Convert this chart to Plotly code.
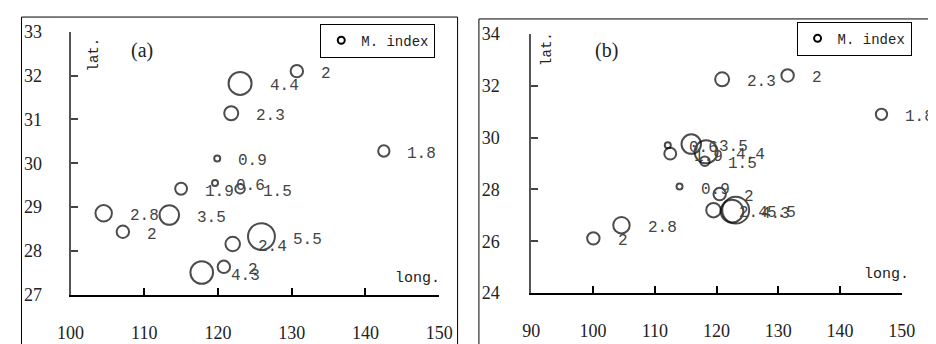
import math
import plotly.graph_objects as go

# ---- data ----
mindex = [4.4, 2.3, 0.9, 2, 1.8, 1.9, 0.6, 1.5, 2.8, 2, 3.5, 4.3, 2, 2.4, 5.5]

lon_a = [123.0, 121.8, 119.9, 130.7, 142.5, 115.0, 119.6, 123.0, 104.5, 107.1, 113.4, 117.8, 120.8, 122.0, 125.9]
lat_a = [31.82, 31.14, 30.11, 32.10, 30.28, 29.42, 29.55, 29.42, 28.86, 28.44, 28.82, 27.51, 27.64, 28.16, 28.33]

lon_b = [118.3, 120.9, 114.0, 131.5, 146.7, 112.5, 112.1, 118.1, 104.6, 100.05, 115.9, 122.5, 120.5, 119.5, 123.1]
lat_b = [29.45, 32.25, 28.11, 32.40, 30.90, 29.38, 29.71, 29.09, 26.62, 26.11, 29.75, 27.16, 27.82, 27.20, 27.20]

xticks_a = [100, 110, 120, 130, 140, 150]
yticks_a = [27, 28, 29, 30, 31, 32, 33]
xticks_b = [90, 100, 110, 120, 130, 140, 150]
yticks_b = [24, 26, 28, 30, 32, 34]

W, H = 936, 344
OFF = 8  # page body margin offset
SERIF = "Liberation Serif"
MONO = "Liberation Mono"

def outer_diam(v):
    return max(15.5 * math.sqrt(v) - 7.5, 8.0)

diams = [outer_diam(v) for v in mindex]
LW = 2

def px(x):
    return (x - OFF) / W

def py(y):
    return 1 - (y - OFF) / H

fig = go.Figure()

panels = [
    dict(xa="x", ya="y", lon=lon_a, lat=lat_a, leg="legend"),
    dict(xa="x2", ya="y2", lon=lon_b, lat=lat_b, leg="legend2"),
]

annotations = []
for p in panels:
    fig.add_trace(go.Scatter(
        x=p["lon"], y=p["lat"], mode="markers", xaxis=p["xa"], yaxis=p["ya"],
        marker=dict(symbol="circle-open", size=[d - LW for d in diams], color="black",
                    line=dict(width=LW, color="black")),
        cliponaxis=False, showlegend=False, hoverinfo="skip"))
    fig.add_trace(go.Scatter(
        x=[None], y=[None], mode="markers", xaxis=p["xa"], yaxis=p["ya"],
        marker=dict(symbol="circle-open", size=7, color="black", line=dict(width=2)),
        name="M. index", legend=p["leg"], showlegend=True))
    for x, y, v, d in zip(p["lon"], p["lat"], mindex, diams):
        annotations.append(dict(
            x=x, y=y, xref=p["xa"], yref=p["ya"], text=f"{v:g}", showarrow=False,
            xanchor="left", yanchor="middle", xshift=d / 2 + 15, yshift=-3,
            font=dict(family=MONO, size=16, color="#444444")))

for txt, x0, y0, fam, size, ang in [
    ("(a)", 132, 43, SERIF, 20, 0),
    ("lat.", 82, 47, MONO, 14, -90),
    ("long.", 416, 285, MONO, 15, 0),
    ("(b)", 611, 42, SERIF, 20, 0),
    ("lat.", 549, 41, MONO, 14, -90),
    ("long.", 899, 280, MONO, 15, 0),
]:
    annotations.append(dict(x=px(x0), y=py(y0), xref="paper", yref="paper", text=txt, showarrow=False,
                            xanchor="center", yanchor="middle", textangle=ang,
                            font=dict(family=fam, size=size, color="#222222")))

shapes = [
    dict(type="rect", xref="paper", yref="paper", x0=px(7.5), x1=px(457), y0=-0.1, y1=py(7),
         line=dict(color="black", width=1)),
    dict(type="rect", xref="paper", yref="paper", x0=px(479), x1=1.1, y0=-0.1, y1=py(9),
         line=dict(color="black", width=1)),
]

tickfont = dict(family=SERIF, size=18, color="#222222")

def xax(domain, rng, vals, anchor):
    return dict(domain=domain, range=rng, tickvals=vals, ticks="inside", ticklen=7,
                tickcolor="black", tickwidth=1.5, showline=True, linecolor="black", linewidth=2,
                showgrid=False, zeroline=False, anchor=anchor, tickfont=tickfont,
                ticklabelstandoff=20, fixedrange=True)

def yax(domain, rng, vals, anchor, standoff):
    return dict(domain=domain, range=rng, tickvals=vals, ticks="inside", ticklen=7,
                tickcolor="#444444", tickwidth=1.5, showline=True, linecolor="#555555", linewidth=2,
                showgrid=False, zeroline=False, anchor=anchor, tickfont=tickfont,
                ticklabelstandoff=standoff, fixedrange=True)

legstyle = dict(bordercolor="black", borderwidth=1, bgcolor="white",
                font=dict(family=MONO, size=14, color="#222222"),
                xanchor="right", yanchor="top", xref="paper", yref="paper")

fig.update_layout(
    width=W, height=H, margin=dict(l=0, r=0, t=0, b=0),
    paper_bgcolor="white", plot_bgcolor="white",
    xaxis=xax([px(58), px(438)], [100, 150], xticks_a, "y"),
    yaxis=yax([py(302), py(22.5)], [27, 33], yticks_a, "x", 23),
    xaxis2=xax([px(533), px(915)], [90, 150], xticks_b, "y2"),
    yaxis2=yax([py(300), py(25)], [24, 34], yticks_b, "x2", 26),
    legend=dict(x=px(434), y=py(14), **legstyle),
    legend2=dict(x=px(925), y=py(12), **legstyle),
    annotations=annotations, shapes=shapes,
)

fig.write_html("out.html")
